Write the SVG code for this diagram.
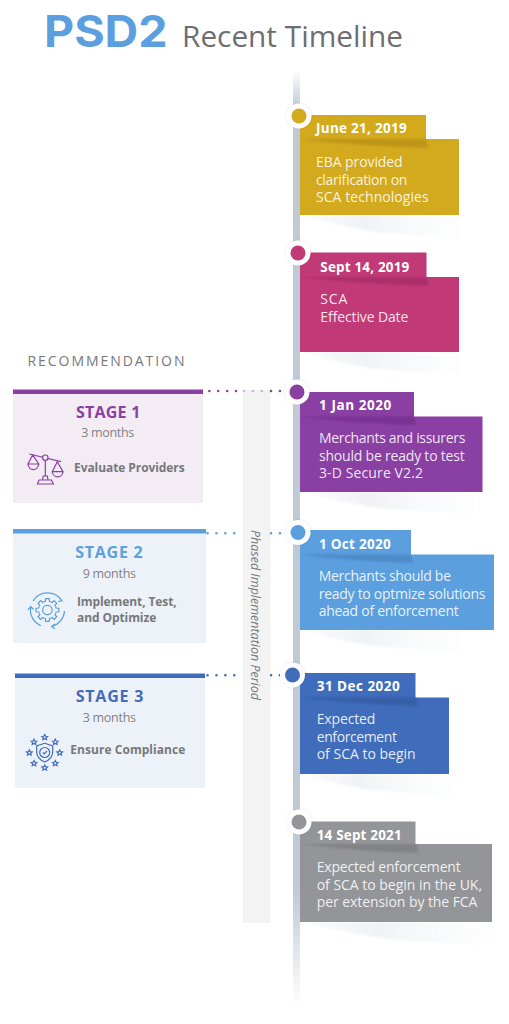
<svg xmlns="http://www.w3.org/2000/svg" width="509" height="1024" viewBox="0 0 509 1024">
<style>
text{font-family:"Open Sans","Liberation Sans",sans-serif}
.date{font-size:13.5px;font-weight:700;fill:#fff}
.body{font-size:14px;fill:#fff;fill-opacity:.88}
.stage{font-size:16px;font-weight:700}
.mon{font-size:12.5px;fill:#808285}
.act{font-size:12px;font-weight:700;fill:#77787b}
.ic{fill:none;stroke-width:1.2}
.dot{fill:#fff;filter:url(#ds)}
.sh{fill:url(#shg);filter:url(#sb)}
.fold{opacity:.18}
.dots{fill:none;stroke-width:2.5;stroke-linecap:round;stroke-dasharray:.1 8.8}
</style>
<defs>
<linearGradient id="spine" x1="0" y1="0" x2="0" y2="1"><stop offset="0" stop-color="#c0cad6" stop-opacity="0"/><stop offset=".04" stop-color="#c0cad6"/><stop offset=".88" stop-color="#c0cad6"/><stop offset="1" stop-color="#c0cad6" stop-opacity="0"/></linearGradient>
<linearGradient id="shg" x1="0" y1="0" x2="1" y2="0"><stop offset="0" stop-color="#c0cad6" stop-opacity=".05"/><stop offset=".4" stop-color="#c0cad6" stop-opacity=".24"/><stop offset=".75" stop-color="#dfe3e9" stop-opacity=".16"/><stop offset="1" stop-color="#e8ebef" stop-opacity=".08"/></linearGradient>
<filter id="ds" x="-30%" y="-30%" width="160%" height="160%"><feDropShadow dx="0" dy="0" stdDeviation="1" flood-color="#000" flood-opacity=".15"/></filter>
<filter id="bl" x="-10%" y="-100%" width="120%" height="300%"><feGaussianBlur stdDeviation="1.2"/></filter>
<filter id="sb" x="-10%" y="-50%" width="120%" height="200%"><feGaussianBlur stdDeviation="1"/></filter>
<path id="tooth" d="M8.2 -3.400L8.700 -2L11.400 -1.800V1.800L8.700 2L8.200 3.400"/>
<path id="star" d="M0 -2.800L.9 -1 2.800 -.8 1.400 .5 1.800 2.400 0 1.400 -1.800 2.400 -1.400 .5 -2.800 -.8 -.9 -1Z"/>
</defs>
<rect width="509" height="1024" fill="#fff"/>
<g id="title">
<text x="44" y="46.500" style="font-family:Inter,'Liberation Sans',sans-serif" font-size="44" font-weight="700" fill="#5b9fde" textLength="123.500" lengthAdjust="spacingAndGlyphs">PSD2</text>
<text x="182" y="46.500" font-size="29" fill="#6d6e71" textLength="221" lengthAdjust="spacingAndGlyphs">Recent Timeline</text>
</g>
<text id="recommendation" x="27.500" y="365.500" font-size="14" fill="#77787b" textLength="157">RECOMMENDATION</text>
<g id="phase">
<rect x="243" y="390" width="27.500" height="533" fill="#f3f3f4"/>
<text transform="translate(251,530) rotate(90)" font-size="12.500" font-style="italic" fill="#77787b" textLength="170">Phased Implementation Period</text>
</g>
<g id="connectors">
<rect x="293" y="70" width="7" height="935" fill="url(#spine)"/>
<path class="dots" stroke="#8a3fa3" d="M209.300 391H237M271 391H281"/>
<path class="dots" stroke="#8a3fa3" opacity=".35" d="M244 391H263"/>
<path class="dots" stroke="#5b9fde" d="M207.500 533.300H235M271 533.300H281"/>
<path class="dots" stroke="#3f6dbb" d="M207.500 675.300H235M271 675.300H281"/>
</g>

<g id="node-june-2019">
<path class="sh" d="M300 215H459V239L375 232Q330 224 300 215Z"/>
<rect x="300" y="115" width="126" height="25" fill="#d3a91d"/>
<rect x="300" y="139" width="159" height="76" fill="#d3a91d"/>
<path class="fold" filter="url(#bl)" d="M300 139H426L428 148Q360 146 300 139Z" fill="#5c4300"/>
<circle class="dot" cx="299" cy="116" r="12.500"/><circle cx="299" cy="116" r="7.500" fill="#d3a91d"/>
<text class="date" x="316" y="132.500" textLength="90.700">June 21, 2019</text>
<text class="body" x="316" y="167" textLength="86.700">EBA provided</text>
<text class="body" x="316" y="184.500" textLength="91.300">clarification on</text>
<text class="body" x="316" y="202" textLength="112.700">SCA technologies</text>
</g>
<g id="node-sept-2019">
<path class="sh" d="M300 352H459V376L375 369Q330 361 300 352Z"/>
<rect x="300" y="252.500" width="126.500" height="25" fill="#c13a77"/>
<rect x="300" y="277" width="159" height="75" fill="#c13a77"/>
<path class="fold" filter="url(#bl)" d="M300 277H427L429 286Q360 284 300 277Z" fill="#4d0030"/>
<circle class="dot" cx="298" cy="253" r="12.500"/><circle cx="298" cy="253" r="7.500" fill="#c13a77"/>
<text class="date" x="320.300" y="271.500" textLength="89">Sept 14, 2019</text>
<text class="body" x="320.300" y="304" textLength="27">SCA</text>
<text class="body" x="320.300" y="321.500" textLength="88">Effective Date</text>
</g>
<g id="node-jan-2020">
<path class="sh" d="M300 492H474V515L385 509Q335 501 300 492Z"/>
<rect x="300" y="392" width="114" height="25" fill="#8a3fa3"/>
<rect x="300" y="416.500" width="182.500" height="75.500" fill="#8a3fa3"/>
<path class="fold" filter="url(#bl)" d="M300 416.500H414L416 425Q350 423 300 416.500Z" fill="#30004a"/>
<circle class="dot" cx="297" cy="392" r="12.500"/><circle cx="297" cy="392" r="7.500" fill="#8a3fa3"/>
<text class="date" x="319" y="410" textLength="72.300">1 Jan 2020</text>
<text class="body" x="319" y="443" textLength="146.300">Merchants and issurers</text>
<text class="body" x="319" y="460.500" textLength="145.700">should be ready to test</text>
<text class="body" x="319" y="478" textLength="104">3-D Secure V2.2</text>
</g>
<g id="node-oct-2020">
<path class="sh" d="M300 630H462V652L375 646Q330 639 300 630Z"/>
<rect x="300" y="530" width="111" height="25" fill="#5b9fde"/>
<rect x="300" y="554.500" width="194" height="75.500" fill="#5b9fde"/>
<path class="fold" filter="url(#bl)" d="M300 554.500H411L413 563Q350 561 300 554.500Z" fill="#103060"/>
<circle class="dot" cx="298" cy="532.500" r="12.500"/><circle cx="298" cy="532.500" r="7.500" fill="#5b9fde"/>
<text class="date" x="319" y="548.500" textLength="71.700">1 Oct 2020</text>
<text class="body" x="318.700" y="581" textLength="132.300">Merchants should be</text>
<text class="body" x="318.700" y="598.500" textLength="166.700">ready to optmize solutions</text>
<text class="body" x="318.700" y="616" textLength="140">ahead of enforcement</text>
</g>
<g id="node-dec-2020">
<path class="sh" d="M300 774H451V796L370 790Q330 783 300 774Z"/>
<rect x="300" y="673" width="115.500" height="25" fill="#3f6dbb"/>
<rect x="300" y="697.500" width="149" height="76.500" fill="#3f6dbb"/>
<path class="fold" filter="url(#bl)" d="M300 697.500H416L418 706Q355 704 300 697.500Z" fill="#0a2050"/>
<circle class="dot" cx="292.500" cy="675" r="12.500"/><circle cx="292.500" cy="675" r="7.500" fill="#3f6dbb"/>
<text class="date" x="316.700" y="691" textLength="83">31 Dec 2020</text>
<text class="body" x="316.700" y="724" textLength="58.700">Expected</text>
<text class="body" x="316.700" y="741.500" textLength="80.300">enforcement</text>
<text class="body" x="316.700" y="759" textLength="99">of SCA to begin</text>
</g>
<g id="node-sept-2021">
<path class="sh" d="M300 922H493V946L395 940Q340 932 300 922Z"/>
<rect x="300" y="821.500" width="115.500" height="24" fill="#939598"/>
<rect x="300" y="844" width="192" height="78" fill="#939598"/>
<path class="fold" filter="url(#bl)" d="M300 844H417L418 853Q355 851 300 844Z" fill="#303030"/>
<circle class="dot" cx="299" cy="822" r="12.500"/><circle cx="299" cy="822" r="7.500" fill="#939598"/>
<text class="date" x="316.700" y="840" textLength="85">14 Sept 2021</text>
<text class="body" x="316.700" y="872" textLength="144">Expected enforcement</text>
<text class="body" x="316.700" y="889.500" textLength="165.300">of SCA to begin in the UK,</text>
<text class="body" x="316.700" y="907" textLength="160.700">per extension by the FCA</text>
</g>

<g id="stage-1">
<rect x="13" y="390" width="190" height="113" fill="#f3ecf5"/>
<rect x="13" y="389.500" width="190" height="4.500" fill="#8a3fa3"/>
<text class="stage" x="76" y="418" fill="#8a3fa3" textLength="64.300">STAGE 1</text>
<text class="mon" x="81.300" y="437.300" textLength="53">3 months</text>
<g class="ic" stroke="#8a3fa3">
<path d="M29.300 454L61 461.700M45.300 460V476M43.300 476H47.300L48 480H42.500ZM37.500 484L39 480H51.500L53.300 484Z"/>
<circle cx="45.300" cy="457.700" r="2.700" fill="#f3ecf5"/>
<path d="M32.700 455L28 464H38.700ZM28 464A5.400 6.500 0 0 0 38.700 464M57.300 461.700L52.300 471.700H63ZM52.300 471.700A5.400 6 0 0 0 63 471.700"/>
</g>
<text class="act" x="74" y="472" textLength="110.700">Evaluate Providers</text>
</g>
<g id="stage-2">
<rect x="13" y="530" width="193" height="113" fill="#edf2f9"/>
<rect x="13" y="529" width="193" height="4.500" fill="#5b9fde"/>
<text class="stage" x="75.300" y="557.700" fill="#5b9fde" textLength="67.300">STAGE 2</text>
<text class="mon" x="82.700" y="577.500" textLength="53.300">9 months</text>
<g class="ic" stroke="#5b9fde" stroke-width="1">
<path d="M33 601A17 17 0 0 1 61.700 600.500M59.500 597.500L62 600.800 58.200 601.500M64.500 611A17 17 0 0 1 52 626.400M55 624L51.500 626.500 55 628.800M41 625.700A17 17 0 0 1 30.600 607.500M28 610L30.700 606.500 33.500 609.500"/>
<circle cx="47.400" cy="610" r="4.700"/>
<g transform="translate(47.400 610)">
<use href="#tooth"/><use href="#tooth" transform="rotate(45)"/><use href="#tooth" transform="rotate(90)"/><use href="#tooth" transform="rotate(135)"/><use href="#tooth" transform="rotate(180)"/><use href="#tooth" transform="rotate(225)"/><use href="#tooth" transform="rotate(270)"/><use href="#tooth" transform="rotate(315)"/>
</g>
</g>
<text class="act" x="77" y="605.700" textLength="99.700">Implement, Test,</text>
<text class="act" x="77" y="621.500" textLength="79.300">and Optimize</text>
</g>
<g id="stage-3">
<rect x="15" y="674" width="190" height="114" fill="#edf2f9"/>
<rect x="15" y="673.500" width="190" height="4.500" fill="#3f6dbb"/>
<text class="stage" x="75.700" y="702" fill="#3f6dbb" textLength="67.700">STAGE 3</text>
<text class="mon" x="82.700" y="721.500" textLength="53.300">3 months</text>
<g class="ic" stroke="#3f6dbb" stroke-width="1">
<path d="M44.700 743.300L52.700 746V752Q52.700 758.500 44.700 762Q36.700 758.500 36.700 752V746Z"/>
<circle cx="44.700" cy="752.500" r="5"/>
<path d="M42.700 752.500L44.200 754L47 751"/>
<use href="#star" x="44.700" y="737.300"/><use href="#star" x="34" y="742"/><use href="#star" x="55.300" y="742"/><use href="#star" x="29.300" y="752.700"/><use href="#star" x="59.700" y="752.700"/><use href="#star" x="34" y="763.300"/><use href="#star" x="55.300" y="763.300"/><use href="#star" x="44.700" y="767.700"/>
</g>
<text class="act" x="70.300" y="754.300" textLength="115">Ensure Compliance</text>
</g>
</svg>
